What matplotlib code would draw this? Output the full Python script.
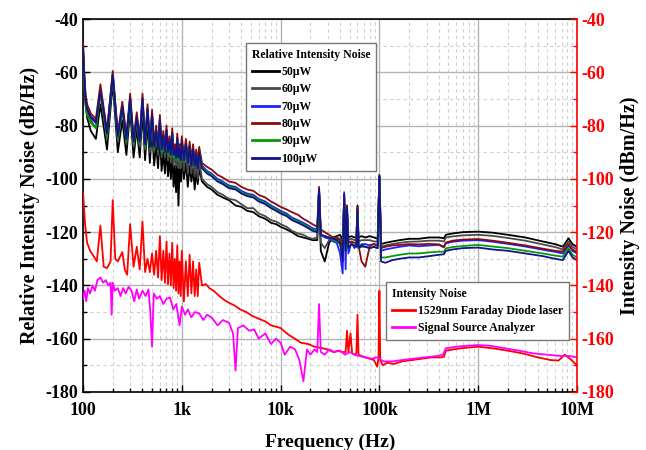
import matplotlib
matplotlib.use("Agg")
import matplotlib.pyplot as plt
from matplotlib.ticker import FixedLocator, LogLocator, NullFormatter, MultipleLocator
from matplotlib.lines import Line2D

plt.rcParams['font.family'] = ['Liberation Serif', 'DejaVu Serif']
plt.rcParams['font.weight'] = 'bold'
plt.rcParams['axes.labelweight'] = 'bold'
plt.rcParams['axes.unicode_minus'] = False

# ---------------- data ----------------
F_RIN = [100, 103, 106, 110, 120, 135, 150, 175, 200, 225, 250, 275, 300, 325, 350, 375,
         400, 425, 450, 475, 500, 525, 550, 575, 600, 625, 650, 675, 700, 725, 750, 775,
         800, 825, 850, 875, 900, 925, 950, 975, 1000, 1050, 1100, 1150, 1200, 1250, 1300,
         1350, 1400, 1450, 1500, 1600, 1800, 2000, 2300, 2600, 3000, 3500, 4000, 4600, 5300,
         6000, 7000, 8000, 9000, 10000, 11500, 13000, 15000, 17000, 19000, 21000, 23500,
         24500, 25500, 28000, 31000, 34000, 37000, 40000, 42500, 44000, 45500, 47000, 48500,
         52000, 56000, 58500, 60000, 61500, 66000, 72000, 80000, 88000, 96000, 100000,
         104000, 115000, 135000, 160000, 200000, 250000, 320000, 400000, 450000, 470000,
         550000, 700000, 1000000, 1400000, 2000000, 3000000, 4500000, 6000000, 7200000,
         8200000, 9000000, 10000000]

RIN_50uW = [-52, -64, -72, -77, -82, -85, -72, -89, -64, -90, -78, -91, -74, -92, -81, -92,
            -75, -93, -79, -94, -81, -95, -87, -96, -84, -97, -90, -98, -88, -99, -92, -100,
            -90, -103, -95, -105, -92, -110, -96, -101, -93, -100, -94, -103, -95, -101, -96,
            -104, -97, -102, -96, -101, -103, -104, -106, -107, -108, -110, -110.5, -112, -112.5,
            -114, -115, -116.5, -117, -118, -119, -120, -121.5, -122, -122.5, -123, -123,
            -104, -127, -131, -124, -122, -121.5, -121, -123, -110, -121, -112, -122,
            -121.5, -122, -122, -110, -122, -121.5, -122, -121.5, -122, -122.5, -99,
            -124.5, -124, -123.5, -123, -122.5, -122.5, -122, -122, -122.3, -121,
            -120.5, -120, -119.8, -120.2, -121, -122, -123.5, -124.5, -125.5,
            -122.3, -124.5, -125.5]

RIN_60uW = [-51.5, -63, -71, -75, -78, -81, -68, -85, -62, -86, -74, -87, -71, -88, -78, -88,
            -71, -89, -75, -90, -77, -90, -83, -91, -79, -92, -85, -92, -83, -93, -87, -94,
            -85, -95, -90, -95, -87, -96, -91, -96, -88, -97, -89, -98, -90, -98, -91,
            -99, -93, -100, -93, -100, -102, -103, -105, -106, -107.5, -108, -109.5, -111, -111,
            -113, -114, -115.5, -116, -117, -118, -119.5, -120.5, -121, -122, -122.5, -122,
            -104, -124, -126, -123, -122.5, -122, -122.5, -124, -108, -123, -112, -123,
            -122.5, -123, -123, -111, -123.5, -123, -123, -123, -123.5, -123.5, -99,
            -125.5, -125, -124.5, -124, -123.6, -123.5, -123.2, -123.2, -123.5, -122,
            -121.6, -121.2, -121, -121.4, -122.2, -123.2, -124.6, -125.6, -126.5,
            -123.5, -125.5, -126.5]

RIN_70uW = [-50, -61, -69, -73, -76.5, -78.5, -66.5, -82.5, -60.5, -83.5, -72.5, -84.5, -69.5, -85.5, -76.5, -85.5,
            -69.5, -86.5, -73.5, -87.5, -75.5, -87.5, -81.5, -88.5, -77.5, -88.5, -83.5, -89.5, -81.5, -89.5, -85.5, -90.5,
            -82.5, -90.5, -88.5, -91.5, -84.5, -91.5, -88.5, -92.5, -85.5, -92.5, -86.5, -93.5, -87.5, -94.5, -88.5,
            -94.5, -90.5, -95.5, -89.5, -95, -97, -98, -100, -101, -102.5, -103, -104.5, -105.5, -106,
            -107.5, -108.5, -110, -111, -112, -113, -114.5, -115.5, -116.5, -117.5, -118.5, -119,
            -104, -121, -122, -122.5, -123.5, -124, -128, -135.5, -105, -134, -110, -128,
            -124, -126, -125, -111, -126, -124.5, -124.5, -125, -124.5, -125, -99,
            -127, -126.5, -126, -125.5, -125, -125.3, -125, -124.8, -125.7, -124.2,
            -123.6, -123.2, -123, -123.6, -124.4, -125.4, -126.6, -127.4, -128,
            -125, -127, -128]

RIN_80uW = [-49, -60, -68, -72, -75.5, -77.5, -64.5, -82, -59.5, -83, -71, -84, -68, -85, -75, -85,
            -68, -86, -72, -86.5, -74, -87, -80, -87.5, -76, -88, -82, -88.5, -80, -89, -84, -89.5,
            -81, -90, -87, -90.5, -83, -91, -87, -91.5, -84, -92, -85, -92.5, -86, -93, -87,
            -93.5, -89, -94, -88, -94, -95.5, -96.5, -98.5, -99.5, -101, -101.5, -103, -104, -104.5,
            -106, -107, -108.5, -109.5, -110.5, -111.5, -112.5, -113.5, -115, -116, -117, -118,
            -103, -119, -120, -121, -122, -122.5, -123, -126, -106, -125, -110, -124,
            -123.5, -124, -124.5, -110.5, -125, -131, -133, -125, -124.5, -125, -98.5,
            -126, -125.5, -125, -124.8, -124.5, -124.6, -124.4, -124.6, -125.5, -123.9,
            -123.2, -122.8, -122.6, -123.2, -124, -125, -126.2, -127, -127.3,
            -124.5, -126.5, -127.5]

RIN_90uW = [-52, -64, -72, -76, -79, -81, -67.5, -84, -61, -85, -73.5, -86, -70.5, -87, -77.5, -87,
            -70.5, -88, -74.5, -88.5, -76.5, -89, -82.5, -89.5, -78.5, -90, -84.5, -90.5, -82.5, -91, -86.5, -91.5,
            -83.5, -92, -89.5, -92.5, -85.5, -93, -89.5, -93.5, -86.5, -93.5, -87.5, -94, -88.5, -94.5, -89.5,
            -95, -91, -95.5, -90, -95.5, -97.5, -98.5, -100.5, -101.5, -103, -103.5, -105, -106, -106.5,
            -108, -109, -110.5, -111.5, -112.5, -113.5, -115, -116, -117, -118, -119, -119.5,
            -104.5, -121, -121.5, -122, -123, -123.5, -124.5, -128, -107, -127, -111.5, -126,
            -124.5, -125, -125.5, -112, -126, -125.5, -125.5, -126, -125.5, -126, -99.5,
            -129.5, -129.5, -129, -128.5, -128, -128, -127.6, -127.3, -127.4, -126.1,
            -125.6, -125.2, -124.8, -125.4, -126, -127, -128, -128.8, -129.2,
            -126, -128.5, -129.5]

RIN_100uW = [-51, -62, -70, -74, -77, -79, -67, -83, -61, -84, -73, -85, -70, -86, -77, -86,
             -70, -87, -74, -88, -76, -88, -82, -89, -78, -89, -84, -90, -82, -90, -86, -91,
             -83, -91, -89, -92, -85, -92, -89, -93, -86, -93, -87, -94, -88, -95, -89,
             -95, -91, -96, -90, -96, -98, -99, -101, -102, -103.5, -104, -105.5, -106.5, -107,
             -108.5, -109.5, -111, -112, -113, -114, -115.5, -116.5, -117.5, -118.5, -119.5, -120,
             -104, -121, -121.5, -122, -122.5, -123, -124, -131, -106, -127, -111, -126,
             -124.5, -125, -125.5, -112, -126, -125, -125.5, -126, -125.5, -126, -99,
             -131, -131.5, -130.5, -130, -129.5, -129.5, -129, -128.5, -128.3, -127,
             -126.5, -126, -125.8, -126.5, -127, -128, -129, -130, -130.5,
             -127, -129.5, -130.5]

F_LASER = [100, 102, 105, 110, 118, 128, 138, 150, 162, 175, 190, 200, 212, 225, 250, 265, 280,
           300, 325, 350, 375, 400, 425, 450, 475, 500, 525, 550, 575, 600, 625, 650, 675, 700,
           725, 750, 775, 800, 825, 850, 875, 900, 925, 950, 975, 1000, 1050, 1100, 1150, 1200,
           1250, 1300, 1350, 1400, 1450, 1500, 1600, 1750, 1900, 2100, 2400, 2700, 3000, 3400,
           3900, 4500, 5200, 6000, 7000, 8000, 9000, 10000, 12000, 14000, 16000, 19000, 22000,
           26000, 30000, 34000, 38000, 42000, 45500, 47000, 48500, 51000, 53000, 56000, 58500,
           60000, 61500, 66000, 72000, 80000, 88000, 95000, 98000, 100000, 102000, 108000,
           120000, 140000, 170000, 215000, 270000, 340000, 420000, 450000, 470000, 560000,
           700000, 1000000, 1400000, 2000000, 2800000, 4000000, 5400000, 6500000, 7500000,
           8500000, 10000000]
LASER_1529nm = [-105, -110, -117, -124, -127, -129, -131, -117.5, -133, -133.5, -131, -108, -130, -131, -127.5, -134, -136,
                -117, -133, -125.5, -134, -116, -135, -130, -135, -128, -136, -127, -137, -121.5, -138, -127, -139, -123.5,
                -139.5, -128, -140, -124, -141, -130, -142, -125, -143, -131, -144, -127, -146, -131, -144, -128.5,
                -143, -131, -144, -134, -144, -131.5, -140, -139.5, -141, -142, -144, -145.5, -146.5, -147.5,
                -149, -150, -151.5, -152.5, -153.5, -155, -155.5, -156, -158.5, -160, -161.5, -162, -163,
                -163.5, -164, -165, -164.5, -165, -165, -157, -165, -158, -165.5, -166, -165.5,
                -151, -166, -166.5, -167, -167.5, -168, -170.5, -167, -142, -168, -170,
                -169, -169.5, -168.5, -168, -167.5, -167, -167, -166.8, -164.5, -164,
                -163.5, -163, -163.6, -164.5, -165.5, -167, -168, -168.2, -166,
                -167.5, -170]

F_SSA = [100, 104, 108, 112, 118, 125, 132, 140, 150, 160, 170, 180, 190, 195, 200, 210, 225,
         240, 255, 270, 290, 310, 330, 350, 370, 400, 430, 460, 480, 500, 520, 560, 600, 650,
         700, 760, 820, 880, 950, 1000, 1080, 1150, 1250, 1350, 1500, 1650, 1800, 2000, 2300,
         2600, 3000, 3300, 3500, 3700, 4200, 4800, 5400, 6000, 7000, 8000, 9000, 10000, 11000,
         12500, 14000, 15500, 17000, 18500, 20000, 22000, 23500, 24500, 25500, 28000, 31000,
         35000, 40000, 45000, 50000, 56000, 63000, 72000, 82000, 95000, 110000, 135000, 170000,
         220000, 290000, 380000, 440000, 470000, 600000, 800000, 1000000, 1300000, 1800000,
         2600000, 3600000, 5000000, 7000000, 8500000, 10000000]
SSA_floor = [-145, -142, -146, -141, -143, -140, -142, -138, -137, -139, -138, -140, -139, -151, -139, -142, -141,
             -144, -141, -143, -140.5, -142, -146, -141.5, -145, -142, -144, -141.5, -150, -163, -143, -145, -144, -147,
             -145, -144.5, -149, -147, -155, -148, -151, -149, -152, -150, -150.5, -153, -151, -152, -155,
             -153, -154, -158, -172, -156, -155, -157, -156.5, -160, -158, -162, -160, -161.5, -166,
             -163, -164, -168, -176, -164, -166, -164, -165, -147, -165, -166, -164,
             -165, -164.5, -166, -165, -166, -166.5, -167, -167.5, -167, -168.5, -168.5, -168,
             -167.5, -167, -166.5, -166, -163.6, -163, -162.6, -162.4, -162.6, -163.5,
             -164.5, -165.5, -166, -166.5, -166.5, -167]

RIN_LABELS = ['50\u03bcW', '60\u03bcW', '70\u03bcW', '80\u03bcW', '90\u03bcW', '100\u03bcW']
RIN_COLORS = ['#000000', '#4a4a4a', '#1f1fff', '#8c0a0a', '#079a07', '#12128c']
NOISE_LABELS = ['1529nm Faraday Diode laser', 'Signal Source Analyzer']
X_TICKS = [1e2, 1e3, 1e4, 1e5, 1e6, 1e7]
X_TICKLABELS = ['100', '1k', '10k', '100k', '1M', '10M']
Y_TICKS = [-40, -60, -80, -100, -120, -140, -160, -180]

# ---------------- figure ----------------
fig = plt.figure(figsize=(6.46, 4.5), dpi=100)
ax = fig.add_axes([83 / 646, 1 - 392 / 450, 494 / 646, 373 / 450])
ax.set_xscale('log')
ax.set_xlim(1e2, 1e7)
ax.set_ylim(-180, -40)

rin_series = [RIN_50uW, RIN_60uW, RIN_70uW, RIN_80uW, RIN_90uW, RIN_100uW]
for vals, col, lab in zip(rin_series, RIN_COLORS, RIN_LABELS):
    ax.plot(F_RIN, vals, color=col, lw=1.3, label=lab, zorder=3)

ax.plot(F_LASER, LASER_1529nm, color='#ff0000', lw=1.3, label=NOISE_LABELS[0], zorder=3)
ax.plot(F_SSA, SSA_floor, color='#ff00ff', lw=1.3, label=NOISE_LABELS[1], zorder=3)

# grid
ax.xaxis.set_major_locator(FixedLocator(X_TICKS))
ax.set_xticklabels(X_TICKLABELS)
ax.xaxis.set_minor_locator(LogLocator(base=10, subs=range(2, 10), numticks=20))
ax.xaxis.set_minor_formatter(NullFormatter())
ax.yaxis.set_major_locator(FixedLocator(Y_TICKS))
ax.yaxis.set_minor_locator(MultipleLocator(10))
ax.grid(which='major', color='#b4b4b4', lw=1.0, ls='-', zorder=0)
ax.grid(which='minor', color='#cfcfcf', lw=0.8, ls=(0, (3, 3)), zorder=0)

ax.tick_params(axis='both', which='both', direction='in', labelsize=13)
ax.tick_params(axis='x', which='major', length=5, width=1, pad=7)
ax.tick_params(axis='x', which='minor', length=3, width=1)
ax.tick_params(axis='y', which='major', length=5, width=1)
ax.tick_params(axis='y', which='minor', length=3, width=1)
for lab in ax.get_xticklabels() + ax.get_yticklabels():
    lab.set_fontweight('bold')

ax.set_xlabel('Frequency (Hz)', fontsize=14, fontweight='bold', labelpad=11)
ax.set_ylabel('Relative Intensity Noise (dB/Hz)', fontsize=14.5, fontweight='bold', labelpad=4)
for s in ['left', 'bottom', 'top']:
    ax.spines[s].set_linewidth(1.2)
ax.spines['right'].set_visible(False)

# right axis
ax2 = ax.twinx()
ax2.set_ylim(-180, -40)
ax2.yaxis.set_major_locator(FixedLocator(Y_TICKS))
ax2.yaxis.set_minor_locator(MultipleLocator(10))
ax2.tick_params(axis='y', which='both', direction='in', colors='#ff0000', labelsize=13)
ax2.tick_params(axis='y', which='major', length=5, width=1)
ax2.tick_params(axis='y', which='minor', length=3, width=1)
for lab in ax2.get_yticklabels():
    lab.set_fontweight('bold')
ax2.spines['right'].set_color('#ff0000')
ax2.spines['right'].set_linewidth(1.2)
for s in ['left', 'bottom', 'top']:
    ax2.spines[s].set_visible(False)
ax2.set_ylabel('Intensity Noise (dBm/Hz)', fontsize=14.5, fontweight='bold', color='black', labelpad=4)

# legends
h1 = [Line2D([], [], color=c, lw=2) for c in RIN_COLORS]
leg1 = ax2.legend(h1, RIN_LABELS, title='Relative Intensity Noise', loc='upper left',
                  bbox_to_anchor=(0.33, 0.936), prop={'weight': 'bold', 'size': 8.5},
                  title_fontproperties={'weight': 'bold', 'size': 8.5}, handlelength=2.3,
                  handletextpad=0.2, labelspacing=0.45, borderpad=0.5, frameon=True,
                  fancybox=False, edgecolor='#777777', framealpha=1, alignment='left',
                  borderaxespad=0)
leg1.get_frame().set_linewidth(1.0)
ax2.add_artist(leg1)
h2 = [Line2D([], [], color='#ff0000', lw=2), Line2D([], [], color='#ff00ff', lw=2)]
leg2 = ax2.legend(h2, NOISE_LABELS, title='Intensity Noise', loc='upper left',
                  bbox_to_anchor=(0.613, 0.295), prop={'weight': 'bold', 'size': 8.5},
                  title_fontproperties={'weight': 'bold', 'size': 8.5}, handlelength=2.0,
                  handletextpad=0.2, labelspacing=0.45, borderpad=0.5, frameon=True,
                  fancybox=False, edgecolor='#777777', framealpha=1, alignment='left',
                  borderaxespad=0)
leg2.get_frame().set_linewidth(1.0)

fig.savefig('out.png', dpi=100)
